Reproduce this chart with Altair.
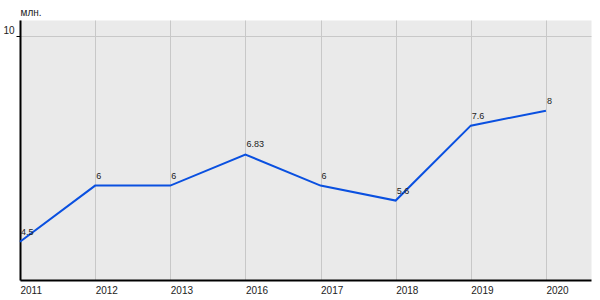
import altair as alt
import pandas as pd

years = ["2011", "2012", "2013", "2016", "2017", "2018", "2019", "2020"]
values = [4.5, 6, 6, 6.83, 6, 5.6, 7.6, 8]
labels = ["4.5", "6", "6", "6.83", "6", "5.6", "7.6", "8"]

df = pd.DataFrame({
    "idx": list(range(len(years))),
    "year": years,
    "value": values,
    "label": labels,
})

label_expr = "[" + ",".join(f"'{y}'" for y in years) + "][datum.value]"
FONT = "Liberation Sans"

x = alt.X(
    "idx:Q",
    scale=alt.Scale(domain=[0, 7.6], nice=False, zero=False),
    axis=alt.Axis(
        values=list(range(len(years))),
        labelExpr=label_expr,
        title=None,
        grid=True,
        gridColor="#c8c8c8",
        gridWidth=1,
        ticks=False,
        labelAlign="left",
        labelBaseline="top",
        labelPadding=5,
        labelFontSize=10,
        labelFont=FONT,
        labelColor="#222222",
        domainColor="#000000",
        domainWidth=2,
        labelFlush=False,
        labelOverlap=False,
    ),
)

y = alt.Y(
    "value:Q",
    scale=alt.Scale(domain=[3.48, 10.42], nice=False, zero=False),
    axis=alt.Axis(
        values=[10],
        title="млн.",
        titleAngle=0,
        titleAlign="left",
        titleBaseline="alphabetic",
        titleX=0,
        titleY=-5,
        titleFontWeight="normal",
        titleFontSize=10,
        titleFont=FONT,
        titleColor="#222222",
        grid=True,
        gridColor="#c8c8c8",
        gridWidth=1,
        tickSize=4,
        tickColor="#000000",
        labelPadding=2,
        labelBaseline="alphabetic",
        labelOffset=-2,
        labelFontSize=10,
        labelFont=FONT,
        labelColor="#222222",
        domainColor="#000000",
        domainWidth=2,
    ),
)

base = alt.Chart(df)

line = base.mark_line(color="#0a50e0", strokeWidth=2).encode(x=x, y=y)

text = base.mark_text(
    align="left", baseline="alphabetic", dx=1, dy=-7,
    fontSize=9, font=FONT, color="#222222",
).encode(x="idx:Q", y="value:Q", text="label:N")

chart = (
    alt.layer(line, text)
    .properties(
        width=571,
        height=260,
        autosize="none",
        padding={"left": 20, "top": 20, "right": 9, "bottom": 20},
        background="#ffffff",
    )
    .configure_view(fill="#eaeaea", stroke="transparent")
)

chart.save("out.html", embed_options={"renderer": "svg", "actions": False})
